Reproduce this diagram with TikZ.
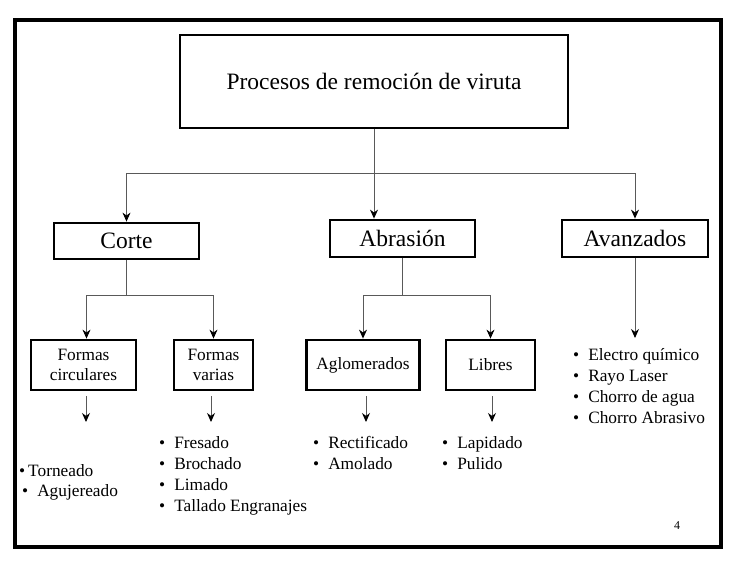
\documentclass[tikz,border=0pt]{standalone}
\usepackage{fontspec}
\setmainfont{Liberation Serif}
\usetikzlibrary{arrows.meta}

\begin{document}
\begin{tikzpicture}[x=1pt,y=-1pt,>={Stealth[length=9pt,width=8pt,color=black]}]
  \tikzstyle{box}=[draw=black,line width=2.8pt,inner sep=0pt,align=center]
  \tikzstyle{big}=[box,font=\fontsize{23.5}{28}\selectfont]
  \tikzstyle{small}=[box,font=\fontsize{17.3}{20}\selectfont,minimum height=50pt]
  \tikzstyle{link}=[draw=black!65,line width=0.9pt]
  \tikzstyle{item}=[anchor=base west,inner sep=0pt,font=\fontsize{17.3}{21}\selectfont]

  \useasboundingbox (0,0) rectangle (732,561);
  \draw[line width=3.2pt] (15,20) rectangle (721,547);

  % levels
  \node[big,minimum width=388pt,minimum height=93pt] (top) at (374,81.5) {Procesos de remoción de viruta};
  \node[big,minimum width=145pt,minimum height=36pt] (corte) at (126.5,241) {Corte};
  \node[big,minimum width=145pt,minimum height=37pt] (abr) at (402.5,238.5) {Abrasión};
  \node[big,minimum width=146pt,minimum height=37pt] (avz) at (635,238.5) {Avanzados};

  \node[small,minimum width=105pt] (fc) at (83.5,365) {Formas\\circulares};
  \node[small,minimum width=79pt] (fv) at (213.5,365) {Formas\\varias};
  \node[small,minimum width=113pt] (ag) at (363,365) {Aglomerados};
  \node[small,minimum width=89pt] (li) at (490.5,365) {Libres};

  % connectors
  \coordinate (bus) at (374,173);
  \draw[link,->] (top.south) -- (top.south |- abr.north);
  \draw[link,->] (bus) -| (corte.north);
  \draw[link,->] (bus) -| (avz.north);

  \coordinate (cbus) at (126.5,295);
  \draw[link] (corte.south) -- (cbus);
  \draw[link,->] (cbus) -| ([xshift=3pt]fc.north);
  \draw[link,->] (cbus) -| (fv.north);

  \coordinate (abus) at (402.5,295);
  \draw[link] (abr.south) -- (abus);
  \draw[link,->] (abus) -| (ag.north);
  \draw[link,->] (abus) -| (li.north);

  \coordinate (avzend) at (635,338);
  \draw[link,->] (avz.south) -- (avzend);

  \coordinate (fcend) at (86,422);
  \coordinate (fvend) at (211,422);
  \coordinate (agend) at (366,422);
  \coordinate (liend) at (492,422);
  \draw[link,->,shorten <=5pt] (fc.south -| fcend) -- (fcend);
  \draw[link,->,shorten <=5pt] (fv.south -| fvend) -- (fvend);
  \draw[link,->,shorten <=5pt] (ag.south -| agend) -- (agend);
  \draw[link,->,shorten <=5pt] (li.south -| liend) -- (liend);

  % lists
  \node[item] (fc-1) at (19,477) {\textbullet\hspace{3pt}Torneado};
  \node[item] (fc-2) at (22,497) {\textbullet\hspace{9pt}Agujereado};
  \foreach \t [count=\i] in {Fresado,Brochado,Limado,Tallado Engranajes}
    \node[item] (fv-\i) at (159,{428+21*\i}) {\textbullet\hspace{9pt}\t};
  \foreach \t [count=\i] in {Rectificado,Amolado}
    \node[item] (ag-\i) at (313,{428+21*\i}) {\textbullet\hspace{9pt}\t};
  \foreach \t [count=\i] in {Lapidado,Pulido}
    \node[item] (li-\i) at (442,{428+21*\i}) {\textbullet\hspace{9pt}\t};
  \foreach \t [count=\i] in {Electro químico,Rayo Laser,Chorro de agua,Chorro Abrasivo}
    \node[item] (avz-\i) at (573,{340+21*\i}) {\textbullet\hspace{9pt}\t};

  \node[font=\fontsize{12}{14}\selectfont] (pg) at (677,526) {4};
\end{tikzpicture}
\end{document}
